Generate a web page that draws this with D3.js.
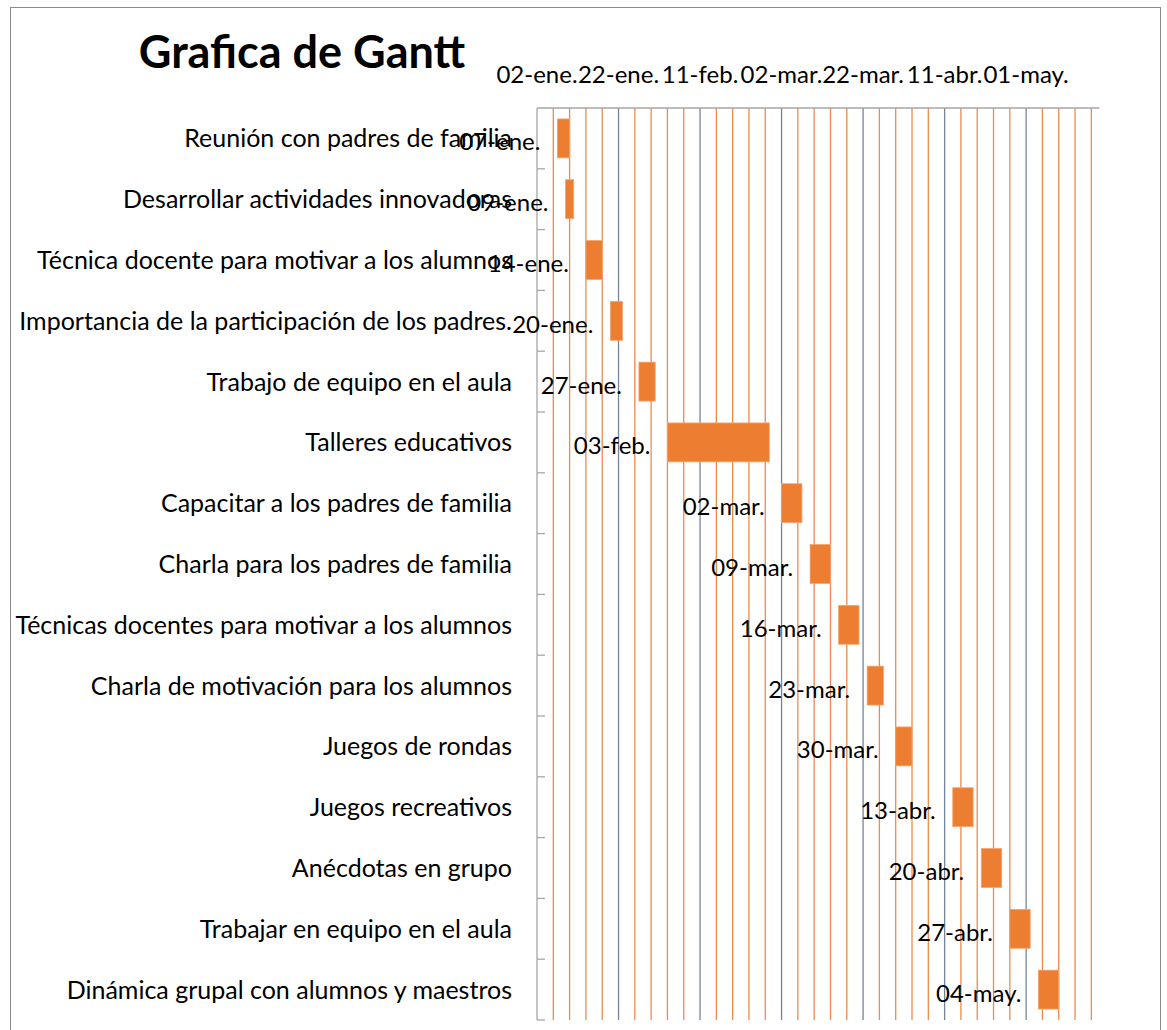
<!DOCTYPE html>
<html>
<head>
<meta charset="utf-8">
<script src="https://cdn.jsdelivr.net/npm/d3@7"></script>
<style>
	body { margin: 0; background: #fff; }
	text { font-family: Lato, "Noto Sans", sans-serif; }
</style>
</head>
<body>
<div class="g-chart-container-gantt"></div>
<script>
// tasks, top to bottom
var tasks = [
	"Reunión con padres de familia",
	"Desarrollar actividades innovadoras",
	"Técnica docente para motivar a los alumnos",
	"Importancia de la participación de los padres.",
	"Trabajo de equipo en el aula",
	"Talleres educativos",
	"Capacitar a los padres de familia",
	"Charla para los padres de familia",
	"Técnicas docentes para motivar a los alumnos",
	"Charla de motivación para los alumnos",
	"Juegos de rondas",
	"Juegos recreativos",
	"Anécdotas en grupo",
	"Trabajar en equipo en el aula",
	"Dinámica grupal con alumnos y maestros"
];
var startDates = ["2020-01-07","2020-01-09","2020-01-14","2020-01-20","2020-01-27","2020-02-03",
	"2020-03-02","2020-03-09","2020-03-16","2020-03-23","2020-03-30","2020-04-13",
	"2020-04-20","2020-04-27","2020-05-04"];
var durations = [3, 2, 4, 3, 4, 25, 5, 5, 5, 4, 4, 5, 5, 5, 5];

var monthNames = ["ene","feb","mar","abr","may"];
var axisStart = "2020-01-02", axisEnd = "2020-05-19";
var tickLabels = ["02-ene.","22-ene.","11-feb.","02-mar.","22-mar.","11-abr.","01-may."];

var W = 1167, H = 1030;
var plot = {left: 537, top: 108, right: 1099.5, bottom: 1020};

var svg = d3.select(".g-chart-container-gantt")
	.append("svg")
	.attr("width", W)
	.attr("height", H);

// chart frame
svg.append("rect")
	.attr("x", 10.5).attr("y", 7.5)
	.attr("width", 1150).attr("height", 1040)
	.attr("fill", "#fff")
	.attr("stroke", "#8c8c8c")
	.attr("stroke-width", 1);

var parse = d3.utcParse("%Y-%m-%d");
var fmt = function(d) {
	return d3.utcFormat("%d")(d) + "-" + monthNames[d.getUTCMonth()] + ".";
};

var x = d3.scaleUtc()
	.domain([parse(axisStart), parse(axisEnd)])
	.range([plot.left, plot.right]);

var y = d3.scaleBand()
	.domain(tasks)
	.range([plot.top, plot.bottom])
	.paddingInner(0.36)
	.paddingOuter(0.18);

// gridlines every 4 days, major every 20
var days = d3.utcDay.range(x.domain()[0], x.domain()[1]);
var grid = days.filter(function(d, i) { return i % 4 === 0 && i > 0; });
var majors = days.filter(function(d, i) { return i % 20 === 0; });

svg.selectAll(".minor")
	.data(grid)
	.enter()
	.append("line")
	.attr("class", "minor")
	.attr("x1", function(d) { return x(d); })
	.attr("x2", function(d) { return x(d); })
	.attr("y1", plot.top)
	.attr("y2", plot.bottom)
	.attr("stroke", function(d, i) { return (i + 1) % 5 === 0 ? "#76849a" : "#ee8a4a"; })
	.attr("stroke-width", 1.3);

// top axis line
svg.append("line")
	.attr("x1", plot.left).attr("x2", plot.right)
	.attr("y1", plot.top).attr("y2", plot.top)
	.attr("stroke", "#a6a6a6")
	.attr("stroke-width", 1.3);

// left axis + ticks
svg.append("line")
	.attr("x1", plot.left).attr("x2", plot.left)
	.attr("y1", plot.top).attr("y2", plot.bottom)
	.attr("stroke", "#a6a6a6")
	.attr("stroke-width", 1.3);

svg.selectAll(".ytick")
	.data(tasks)
	.enter()
	.append("line")
	.attr("class", "ytick")
	.attr("x1", plot.left).attr("x2", plot.left + 8)
	.attr("y1", function(d) { return y(d) - y.step() * y.paddingInner() / 2 + y.step(); })
	.attr("y2", function(d) { return y(d) - y.step() * y.paddingInner() / 2 + y.step(); })
	.attr("stroke", "#a6a6a6")
	.attr("stroke-width", 1.3);

// bars
svg.selectAll(".bar")
	.data(tasks)
	.enter()
	.append("rect")
	.attr("class", "bar")
	.attr("x", function(d, i) { return x(parse(startDates[i])); })
	.attr("y", function(d) { return y(d); })
	.attr("width", function(d, i) {
		var s = parse(startDates[i]);
		return x(d3.utcDay.offset(s, durations[i])) - x(s);
	})
	.attr("height", y.bandwidth())
	.attr("fill", "#ed7d31")
	.attr("stroke", "#f4a56e")
	.attr("stroke-width", 0.8);

// category labels
svg.selectAll(".cat")
	.data(tasks)
	.enter()
	.append("text")
	.attr("class", "cat")
	.attr("x", plot.left - 25)
	.attr("y", function(d) { return y(d) + y.bandwidth() / 2; })
	.attr("dy", "0.36em")
	.attr("text-anchor", "end")
	.style("font-size", "25px")
	.attr("fill", "#000")
	.text(function(d) { return d; });

// start date labels
svg.selectAll(".lbl")
	.data(tasks)
	.enter()
	.append("text")
	.attr("class", "lbl")
	.attr("x", function(d, i) { return x(parse(startDates[i])) - 17; })
	.attr("y", function(d) { return y(d) + y.bandwidth() / 2; })
	.attr("dy", "0.5em")
	.attr("text-anchor", "end")
	.style("font-size", "24px")
	.attr("fill", "#000")
	.text(function(d, i) { return fmt(parse(startDates[i])); });

// top axis labels
svg.selectAll(".xlbl")
	.data(majors)
	.enter()
	.append("text")
	.attr("class", "xlbl")
	.attr("x", function(d) { return x(d); })
	.attr("y", 83)
	.attr("text-anchor", "middle")
	.style("font-size", "24px")
	.attr("fill", "#000")
	.text(function(d, i) { return tickLabels[i]; });

// title
svg.append("text")
	.attr("x", 302)
	.attr("y", 68)
	.attr("text-anchor", "middle")
	.style("font-size", "45px")
	.style("font-weight", "bold")
	.attr("fill", "#000")
	.text("Grafica de Gantt");
</script>
</body>
</html>
